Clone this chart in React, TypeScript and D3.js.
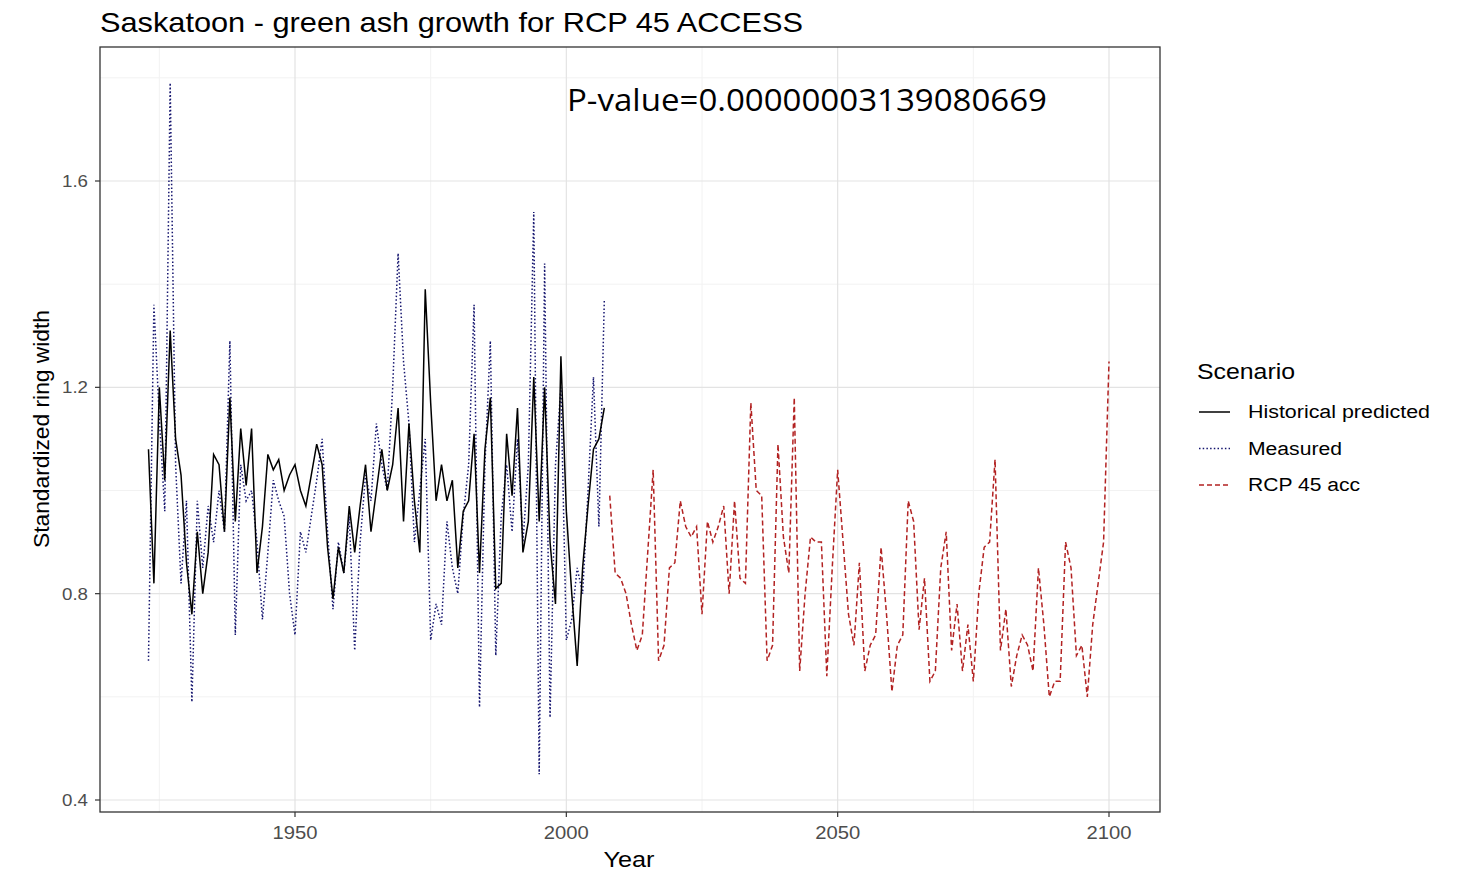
import React from "react";
import { scaleLinear, line } from "d3";

// yearly values
const histStart = 1923;
const historical = [
  1.08, 0.82, 1.2, 1.02, 1.31, 1.1, 1.03, 0.86, 0.76, 0.92,
  0.8, 0.88, 1.07, 1.05, 0.92, 1.18, 0.94, 1.12, 1.01, 1.12,
  0.84, 0.93, 1.07, 1.04, 1.06, 1.0, 1.03, 1.05, 1.0, 0.97,
  1.03, 1.09, 1.05, 0.89, 0.79, 0.89, 0.84, 0.97, 0.88, 0.97,
  1.05, 0.92, 1.0, 1.08, 1.0, 1.05, 1.16, 0.94, 1.13, 0.98,
  0.88, 1.39, 1.17, 0.98, 1.05, 0.98, 1.02, 0.85, 0.96, 0.98,
  1.11, 0.84, 1.08, 1.18, 0.81, 0.82, 1.11, 0.99, 1.16, 0.88,
  0.94, 1.22, 0.94, 1.2, 0.9, 0.78, 1.26, 0.96, 0.8, 0.66,
  0.85, 0.97, 1.08, 1.1, 1.16,
];
const measured = [
  0.67, 1.36, 1.14, 0.96, 1.79, 1.05, 0.82, 0.98, 0.59, 0.98,
  0.85, 0.97, 0.9, 1.0, 0.92, 1.29, 0.72, 1.05, 0.98, 1.0,
  0.9, 0.75, 0.88, 1.02, 0.98, 0.95, 0.8, 0.72, 0.92, 0.88,
  0.95, 1.02, 1.1, 0.92, 0.77, 0.9, 0.84, 0.95, 0.69, 0.9,
  1.03, 0.98, 1.13, 1.05, 1.0, 1.2, 1.46, 1.25, 1.13, 0.9,
  1.0, 1.1, 0.71, 0.78, 0.74, 0.94, 0.85, 0.8, 0.95, 1.05,
  1.36, 0.58, 1.05, 1.29, 0.68, 0.95, 1.05, 0.92, 1.1, 0.9,
  1.05, 1.54, 0.45, 1.44, 0.56, 1.05, 1.2, 0.71, 0.75, 0.85,
  0.8, 1.0, 1.22, 0.93, 1.37,
];
const rcpStart = 2008;
const rcp45 = [
  0.99, 0.84, 0.83, 0.8, 0.74, 0.69, 0.72, 0.88, 1.04, 0.67,
  0.7, 0.85, 0.86, 0.98, 0.93, 0.91, 0.93, 0.76, 0.94, 0.9,
  0.93, 0.97, 0.8, 0.98, 0.83, 0.82, 1.17, 1.0, 0.99, 0.67,
  0.7, 1.09, 0.91, 0.84, 1.18, 0.65, 0.8, 0.91, 0.9, 0.9,
  0.64, 0.85, 1.04, 0.9, 0.76, 0.7, 0.86, 0.65, 0.7, 0.72,
  0.89, 0.76, 0.61, 0.7, 0.72, 0.98, 0.94, 0.73, 0.83, 0.63,
  0.65, 0.85, 0.92, 0.69, 0.78, 0.65, 0.74, 0.63, 0.8, 0.89,
  0.9, 1.06, 0.69, 0.77, 0.62, 0.68, 0.72, 0.7, 0.65, 0.85,
  0.74, 0.6, 0.63, 0.63, 0.9, 0.85, 0.68, 0.7, 0.6, 0.74,
  0.82, 0.9, 1.25,
];
const xMajor = [1950, 2000, 2050, 2100];
const xMinor = [1925, 1975, 2025, 2075];
const yMajor = [0.4, 0.8, 1.2, 1.6];
const yMinor = [0.6, 1.0, 1.4, 1.8];
const legendItems = ["Historical predicted", "Measured", "RCP 45 acc"];
const legendWidths = [182, 94, 112];
const legendColors = ["#000000", "#14146e", "#b22222"];
const legendDash = ["none", "1.5,2.2", "5,3"];

const W = 1461;
const H = 871;
const panel = { left: 100, right: 1160, top: 47, bottom: 812 };
const font = "'Liberation Sans', Arial, sans-serif";

export default function App() {
  const x = scaleLinear().domain([1950, 2100]).range([295, 1109]);
  const y = scaleLinear().domain([0.4, 1.6]).range([800, 181]);

  const mk = (start: number) =>
    line<number>()
      .x((_, i) => x(start + i))
      .y((v) => y(v));

  const series = [
    { data: measured, start: histStart, idx: 1 },
    { data: historical, start: histStart, idx: 0 },
    { data: rcp45, start: rcpStart, idx: 2 },
  ];

  return (
    <svg
      width={W}
      height={H}
      style={{ position: "absolute", left: 0, top: 0, background: "#fff" }}
    >
      <rect x={0} y={0} width={W} height={H} fill="#fff" />
      {/* grid */}
      {yMinor.map((t) => (
        <line key={"ym" + t} x1={panel.left} x2={panel.right} y1={y(t)} y2={y(t)} stroke="#f2f2f2" strokeWidth={1} />
      ))}
      {xMinor.map((t) => (
        <line key={"xm" + t} x1={x(t)} x2={x(t)} y1={panel.top} y2={panel.bottom} stroke="#f2f2f2" strokeWidth={1} />
      ))}
      {yMajor.map((t) => (
        <line key={"yM" + t} x1={panel.left} x2={panel.right} y1={y(t)} y2={y(t)} stroke="#e3e3e3" strokeWidth={1.2} />
      ))}
      {xMajor.map((t) => (
        <line key={"xM" + t} x1={x(t)} x2={x(t)} y1={panel.top} y2={panel.bottom} stroke="#e3e3e3" strokeWidth={1.2} />
      ))}

      {/* lines */}
      {series.map((s) => (
        <path
          key={s.idx}
          d={mk(s.start)(s.data) || ""}
          fill="none"
          stroke={legendColors[s.idx]}
          strokeWidth={1.5}
          strokeDasharray={legendDash[s.idx]}
        />
      ))}

      {/* panel border */}
      <rect
        x={panel.left}
        y={panel.top}
        width={panel.right - panel.left}
        height={panel.bottom - panel.top}
        fill="none"
        stroke="#333"
        strokeWidth={1.3}
      />

      {/* y axis */}
      {yMajor.map((t) => (
        <g key={"yt" + t}>
          <line x1={95} x2={panel.left} y1={y(t)} y2={y(t)} stroke="#333" strokeWidth={1.2} />
          <text x={88} y={y(t)} dy="0.36em" textAnchor="end" fontFamily={font} fontSize={17} fill="#4d4d4d"
            textLength={26} lengthAdjust="spacingAndGlyphs">
            {t.toFixed(1)}
          </text>
        </g>
      ))}
      {/* x axis */}
      {xMajor.map((t) => (
        <g key={"xt" + t}>
          <line x1={x(t)} x2={x(t)} y1={panel.bottom} y2={panel.bottom + 5} stroke="#333" strokeWidth={1.2} />
          <text x={x(t)} y={839} textAnchor="middle" fontFamily={font} fontSize={18} fill="#4d4d4d"
            textLength={45} lengthAdjust="spacingAndGlyphs">
            {t}
          </text>
        </g>
      ))}

      <text x={629} y={867} textAnchor="middle" fontFamily={font} fontSize={22} fill="#000"
        textLength={51} lengthAdjust="spacingAndGlyphs">
        Year
      </text>
      <text
        transform="translate(49,429) rotate(-90)"
        textAnchor="middle"
        fontFamily={font}
        fontSize={22}
        fill="#000"
        textLength={238}
        lengthAdjust="spacingAndGlyphs"
      >
        Standardized ring width
      </text>

      <text x={100} y={32} fontFamily={font} fontSize={28} fill="#000"
        textLength={703} lengthAdjust="spacingAndGlyphs">
        Saskatoon - green ash growth for RCP 45 ACCESS
      </text>

      <text x={567} y={111} fontFamily="'Open Sans', sans-serif" fontSize={31} fill="#000"
        textLength={480} lengthAdjust="spacingAndGlyphs">
        P-value=0.00000003139080669
      </text>

      {/* legend */}
      <text x={1197} y={379} fontFamily={font} fontSize={22} fill="#000"
        textLength={98} lengthAdjust="spacingAndGlyphs">
        Scenario
      </text>
      {legendItems.map((name, i) => (
        <g key={name} transform={`translate(0, ${412 + i * 36.5})`}>
          <line
            x1={1199}
            x2={1230}
            y1={0}
            y2={0}
            stroke={legendColors[i]}
            strokeWidth={1.5}
            strokeDasharray={legendDash[i]}
          />
          <text x={1248} y={0} dy="0.36em" fontFamily={font} fontSize={18} fill="#000"
            textLength={legendWidths[i]} lengthAdjust="spacingAndGlyphs">
            {name}
          </text>
        </g>
      ))}
    </svg>
  );
}
